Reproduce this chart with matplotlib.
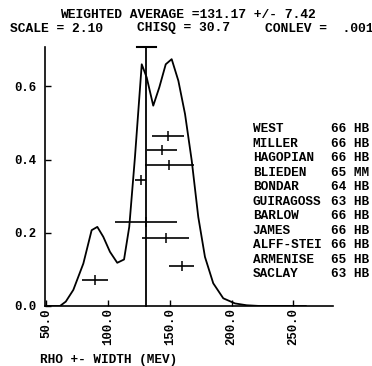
import matplotlib
matplotlib.use("Agg")
import matplotlib.pyplot as plt

# Ideogram curve
curve_x = [51.6, 61.3, 66.0, 72.1, 80.2, 86.9, 91.5, 96.3, 101.7, 107.6, 113.1, 117.3,
           121.9, 127.4, 131.4, 136.7, 141.6, 146.8, 151.6, 157.0, 162.4, 167.8, 173.1,
           178.5, 185.2, 193.3, 202.8, 212.2, 223.0, 260.0]
curve_y = [0.0, 0.0, 0.012, 0.044, 0.116, 0.207, 0.216, 0.189, 0.148, 0.118, 0.127, 0.216,
           0.406, 0.660, 0.624, 0.547, 0.597, 0.660, 0.674, 0.615, 0.524, 0.397, 0.243,
           0.134, 0.062, 0.021, 0.007, 0.002, 0.0, 0.0]

# Individual measurements (plotted at arbitrary heights)
pt_x = [148.4, 144.0, 149.7, 126.6, 130.6, 146.8, 159.7, 89.6]
pt_err = [13.1, 12.2, 20.0, 4.6, 25.2, 19.2, 10.0, 10.7]
pt_y = [0.463, 0.427, 0.386, 0.345, 0.228, 0.187, 0.109, 0.071]

avg = 131.17
avg_err = 7.42

names = ["WEST", "MILLER", "HAGOPIAN", "BLIEDEN", "BONDAR", "GUIRAGOSS",
         "BARLOW", "JAMES", "ALFF-STEI", "ARMENISE", "SACLAY"]
# the reference is cropped at its right edge; only this much of each entry is visible
refs = ["66 HB", "66 HB", "66 HB", "65 MM", "64 HB", "63 HB",
        "66 HB", "66 HB", "66 HB", "65 HB", "63 HB"]

xticks = [50, 100, 150, 200, 250]
xticklabels = ["50.0", "100.0", "150.0", "200.0", "250.0"]
yticks = [0.0, 0.2, 0.4, 0.6]
yticklabels = ["0.0", "0.2", "0.4", "0.6"]

W, H = 372, 366
fig = plt.figure(figsize=(W / 100, H / 100), dpi=100)
fig.patch.set_facecolor("white")
FONT = "Liberation Mono"
fs = 9.2

ax = fig.add_axes([45 / W, 1 - 306 / H, (333 - 45) / W, (306 - 46.7) / H])
ax.set_xlim(49.2, 282)
ax.set_ylim(0, 0.708)
for s in ["top", "right"]:
    ax.spines[s].set_visible(False)
for s in ["left", "bottom"]:
    ax.spines[s].set_linewidth(1.2)

ax.plot(curve_x, curve_y, color="black", lw=1.3)
ax.errorbar(pt_x, pt_y, xerr=pt_err, fmt="|", color="black", ms=7, mew=1.1,
            elinewidth=1.2, capsize=0)
ax.plot([avg, avg], [0, 0.708], color="black", lw=1.3, clip_on=False)
ax.plot([avg - avg_err, avg + avg_err], [0.708, 0.708], color="black", lw=1.5,
        clip_on=False)

ax.set_xticks(xticks)
ax.set_xticklabels(xticklabels, rotation=90, fontfamily=FONT, fontweight="bold",
                   fontsize=8.8, va="top")
ax.set_yticks(yticks)
ax.set_yticklabels(yticklabels, fontfamily=FONT, fontweight="bold", fontsize=8.8)
ax.tick_params(axis="both", direction="in", length=4, width=1.0)
ax.tick_params(axis="x", pad=1.5)
ax.tick_params(axis="y", pad=6)

def ftext(px, py, s, ha="left", size=fs):
    fig.text(px / W, 1 - py / H, s, ha=ha, va="center", fontfamily=FONT,
             fontweight="bold", fontsize=size, color="black")

ftext(60, 15, "WEIGHTED AVERAGE =131.17 +/- 7.42", size=9.4)
ftext(10, 28.5, "SCALE = 2.10", size=9.4)
ftext(136.7, 28.5, "CHISQ = 30.7", size=9.4)
ftext(265, 28.5, "CONLEV =  .001", size=9.4)

row_y0 = 129.3
row_dy = 14.47
for i, (n, r) in enumerate(zip(names, refs)):
    ftext(252.7, row_y0 + i * row_dy, n)
    ftext(331, row_y0 + i * row_dy, r)

ftext(40, 360, "RHO +- WIDTH (MEV)")

fig.savefig("out.png", dpi=100, facecolor="white")
